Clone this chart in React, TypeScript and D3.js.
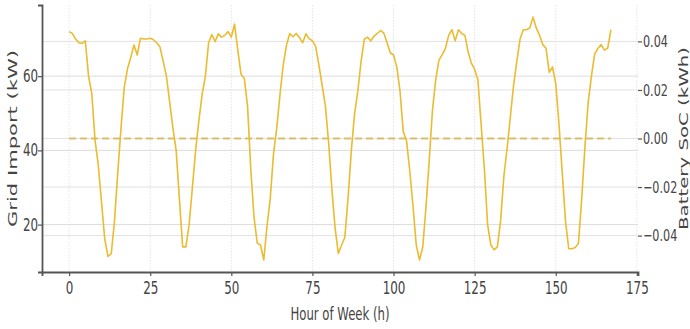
import React, { useEffect, useRef } from 'react';
import * as d3 from 'd3';

// hourly grid import (kW)
const gridImport = [
  72, 71.5, 70, 69, 68.8, 69.5, 60, 55.3, 42.7, 36, 26, 16, 11.4, 12.2, 21, 34, 46, 57, 62, 65, 68.4, 65.7, 70.2, 70,
  70, 70.2, 69.8, 69, 67.9, 64, 60, 53, 46, 40, 27, 14, 14, 20, 30, 40, 48, 55, 60, 69, 71.2, 69.3, 71.4, 70.5,
  71, 72, 70.5, 74, 67, 60.5, 59.4, 52, 35, 22, 15, 14.5, 10.5, 19.5, 27, 39, 46, 55, 63, 68.3, 71.5, 70.6, 71.5, 70.4,
  69, 71.4, 70.1, 69.5, 68, 63, 57.5, 52, 42, 29.5, 19, 12.2, 14.5, 16.6, 27.4, 40, 49.9, 56, 64, 70, 70.5, 69.5, 70.8, 71.5,
  72.3, 71.6, 69, 66.3, 65.7, 62.5, 56, 45, 42.7, 34.5, 25, 14.5, 10.5, 13.9, 24.7, 37.3, 50.8, 59, 64.3, 65.8, 67.5, 71, 72.5, 69.5,
  72.5, 71.5, 71, 66.5, 63.5, 61.8, 59, 47, 35, 20, 14.5, 13.2, 14, 21, 33, 40.5, 49, 57.5, 64, 70, 72.5, 72.5, 73, 75.9,
  73, 71, 68.5, 67.5, 61, 62.5, 58, 47, 34, 21, 13.5, 13.5, 13.8, 15, 27, 41, 53, 60, 66, 67.5, 68.5, 67, 67.5, 72.5
];

// battery state of charge (kWh), flat at zero all week
const batterySoC = [
  0, 0, 0, 0, 0, 0, 0, 0, 0, 0, 0, 0, 0, 0, 0, 0, 0, 0, 0, 0, 0, 0, 0, 0,
  0, 0, 0, 0, 0, 0, 0, 0, 0, 0, 0, 0, 0, 0, 0, 0, 0, 0, 0, 0, 0, 0, 0, 0,
  0, 0, 0, 0, 0, 0, 0, 0, 0, 0, 0, 0, 0, 0, 0, 0, 0, 0, 0, 0, 0, 0, 0, 0,
  0, 0, 0, 0, 0, 0, 0, 0, 0, 0, 0, 0, 0, 0, 0, 0, 0, 0, 0, 0, 0, 0, 0, 0,
  0, 0, 0, 0, 0, 0, 0, 0, 0, 0, 0, 0, 0, 0, 0, 0, 0, 0, 0, 0, 0, 0, 0, 0,
  0, 0, 0, 0, 0, 0, 0, 0, 0, 0, 0, 0, 0, 0, 0, 0, 0, 0, 0, 0, 0, 0, 0, 0,
  0, 0, 0, 0, 0, 0, 0, 0, 0, 0, 0, 0, 0, 0, 0, 0, 0, 0, 0, 0, 0, 0, 0, 0
];

const hours = gridImport.map((_, i) => i);

const xTicks = [0, 25, 50, 75, 100, 125, 150, 175];
const leftTicks = [20, 40, 60];
const rightTicks = [-0.04, -0.02, 0, 0.02, 0.04];

const FONT = '"DejaVu Sans", sans-serif';
const SQUEEZE = 0.7; // the picture is squeezed sideways

export default function App() {
  const ref = useRef<SVGSVGElement>(null);

  useEffect(() => {
    const width = 690;
    const height = 329;
    const margin = { top: 5, left: 42, right: 52, bottom: 57 };
    const x0 = margin.left, x1 = width - margin.right;
    const y0 = margin.top, y1 = height - margin.bottom;

    const svg = d3.select(ref.current);
    svg.selectAll('*').remove();

    const xScale = d3.scaleLinear().domain([-8.35, 175.35]).range([x0, x1]);
    const yLeft = d3.scaleLinear().domain([7.23, 79.17]).range([y1, y0]);
    const yRight = d3.scaleLinear().domain([-0.055, 0.055]).range([y1, y0]);

    // grid
    svg.append('g').selectAll('line').data(xTicks).join('line')
      .attr('x1', d => xScale(d)).attr('x2', d => xScale(d))
      .attr('y1', y0).attr('y2', y1)
      .attr('stroke', '#e4e4e4').attr('stroke-width', 1).attr('stroke-dasharray', '1.5,1.5');
    svg.append('g').selectAll('line').data(leftTicks).join('line')
      .attr('x1', x0).attr('x2', x1)
      .attr('y1', d => yLeft(d)).attr('y2', d => yLeft(d))
      .attr('stroke', '#dcdcdc').attr('stroke-width', 1);
    svg.append('g').selectAll('line').data(rightTicks).join('line')
      .attr('x1', x0).attr('x2', x1)
      .attr('y1', d => yRight(d)).attr('y2', d => yRight(d))
      .attr('stroke', '#e2e2e2').attr('stroke-width', 1);

    // battery line (right axis)
    const socLine = d3.line<number>().x((_, i) => xScale(hours[i])).y(d => yRight(d));
    svg.append('path').datum(batterySoC)
      .attr('d', socLine).attr('fill', 'none')
      .attr('stroke', '#d6b456').attr('stroke-width', 2).attr('stroke-dasharray', '7,4')
      .attr('opacity', 0.85);

    // grid import line (left axis)
    const gridLine = d3.line<number>().x((_, i) => xScale(hours[i])).y(d => yLeft(d));
    svg.append('path').datum(gridImport)
      .attr('d', gridLine).attr('fill', 'none')
      .attr('stroke', '#ebbb30').attr('stroke-width', 1.6).attr('stroke-linejoin', 'round');

    // axes
    const xAxis = svg.append('g').attr('transform', `translate(0, ${y1})`)
      .call(d3.axisBottom(xScale).tickValues(xTicks).tickSize(4).tickPadding(6).tickFormat(d3.format('d')));
    const leftAxis = svg.append('g').attr('transform', `translate(${x0}, 0)`)
      .call(d3.axisLeft(yLeft).tickValues(leftTicks).tickSize(4).tickPadding(3).tickFormat(d3.format('d')));
    const rightAxis = svg.append('g').attr('transform', `translate(${x1}, 0)`)
      .call(d3.axisRight(yRight).tickValues(rightTicks).tickSize(4).tickPadding(3)
        .tickFormat(d => d3.format('.2f')(d as number).replace('-', '\u2212')));

    [xAxis, leftAxis, rightAxis].forEach(ax => {
      ax.selectAll('text').attr('font-family', FONT).attr('font-size', 17).attr('fill', '#444');
      ax.selectAll('.tick line').attr('stroke', '#555').attr('stroke-width', 1.2);
    });
    rightAxis.selectAll('text').attr('font-size', 16);
    xAxis.select('.domain').attr('stroke', '#555').attr('stroke-width', 1.8);
    leftAxis.select('.domain').attr('stroke', '#555').attr('stroke-width', 1.8);
    rightAxis.select('.domain').remove();

    xAxis.selectAll('text').attr('transform', `scale(${SQUEEZE},1)`);
    leftAxis.selectAll('text').attr('x', -4 / SQUEEZE).attr('transform', `scale(${SQUEEZE},1)`);
    rightAxis.selectAll('text').attr('x', 5 / SQUEEZE).attr('transform', `scale(${SQUEEZE},1)`);

    // axis titles
    svg.append('text')
      .attr('transform', `translate(${(x0 + x1) / 2}, 320)`)
      .attr('text-anchor', 'middle').attr('font-family', FONT).attr('font-size', 18).attr('fill', '#444')
      .attr('textLength', 99).attr('lengthAdjust', 'spacingAndGlyphs')
      .text('Hour of Week (h)');
    svg.append('text')
      .attr('transform', `translate(17, ${(y0 + y1) / 2}) rotate(-90) scale(1, ${SQUEEZE})`)
      .attr('text-anchor', 'middle').attr('font-family', FONT).attr('font-size', 18).attr('fill', '#444')
      .attr('textLength', 177).attr('lengthAdjust', 'spacingAndGlyphs')
      .text('Grid Import (kW)');
    svg.append('text')
      .attr('transform', `translate(688, ${(y0 + y1) / 2}) rotate(-90) scale(1, ${SQUEEZE})`)
      .attr('text-anchor', 'middle').attr('font-family', FONT).attr('font-size', 18).attr('fill', '#444')
      .attr('textLength', 183).attr('lengthAdjust', 'spacingAndGlyphs')
      .text('Battery SoC (kWh)');
  }, []);

  return (
    <svg ref={ref} width={690} height={329}
      style={{ position: 'absolute', left: 0, top: 0, background: '#fff' }} />
  );
}
